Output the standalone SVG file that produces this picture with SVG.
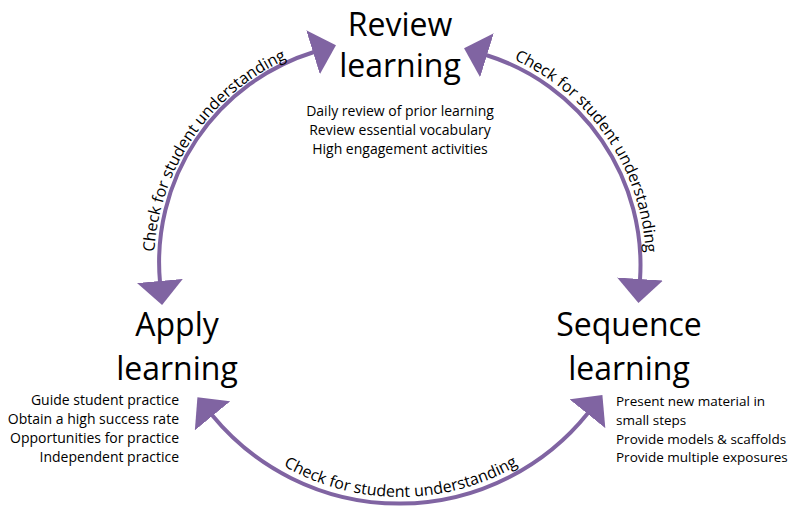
<svg xmlns="http://www.w3.org/2000/svg" width="793" height="506" viewBox="0 0 793 506">
<style>
.title{font-family:"Open Sans","Liberation Sans",sans-serif;font-size:32px;fill:#000;text-anchor:middle}
.sub{font-family:"Open Sans","Liberation Sans",sans-serif;font-size:14px;fill:#000}
.sub2{font-family:"Open Sans","Liberation Sans",sans-serif;font-size:13.5px;fill:#000}
.lbl{font-family:"Open Sans","Liberation Sans",sans-serif;font-size:16px;fill:#000}
.arc{fill:none;stroke:#8064A2;stroke-width:4;marker-start:url(#ah);marker-end:url(#ah)}
</style>
<defs>
<marker id="ah" markerUnits="userSpaceOnUse" markerWidth="24" markerHeight="46" refX="1" refY="23" orient="auto-start-reverse" viewBox="0 0 24 46">
<path d="M0,0 L24,23 L0,46 Z" fill="#8064A2"/>
</marker>
<path id="tpL" d="M154.5,280.4 A226,226 0 0 1 313.2,49.1"/>
<path id="tpR" d="M488,49.5 A226,226 0 0 1 645.5,280.4"/>
<path id="tpB" d="M218.2,410.3 A234,234 0 0 0 582.9,409"/>
</defs>
<rect width="793" height="506" fill="#fff"/>
<g id="connectors">
<path class="arc" d="M160,282 A220,220 0 0 1 314,52"/>
<path class="arc" d="M486,55 A220,220 0 0 1 640,280"/>
<path class="arc" d="M212,415 A242,242 0 0 0 588,413"/>
<text class="lbl" text-anchor="middle"><textPath href="#tpL" startOffset="50%">Check for student understanding</textPath></text>
<text class="lbl" text-anchor="middle"><textPath href="#tpR" startOffset="50%">Check for student understanding</textPath></text>
<text class="lbl" text-anchor="middle"><textPath href="#tpB" startOffset="50%">Check for student understanding</textPath></text>
</g>
<g id="review">
<text class="title" x="400" y="36">Review</text>
<text class="title" x="400" y="77">learning</text>
<text class="sub" text-anchor="middle" x="400" y="116">Daily review of prior learning</text>
<text class="sub" text-anchor="middle" x="400" y="135">Review essential vocabulary</text>
<text class="sub" text-anchor="middle" x="400" y="154">High engagement activities</text>
</g>
<g id="apply">
<text class="title" x="177" y="336">Apply</text>
<text class="title" x="177" y="380">learning</text>
<text class="sub" text-anchor="end" x="179" y="405">Guide student practice</text>
<text class="sub" text-anchor="end" x="179" y="424">Obtain a high success rate</text>
<text class="sub" text-anchor="end" x="179" y="443">Opportunities for practice</text>
<text class="sub" text-anchor="end" x="179" y="462">Independent practice</text>
</g>
<g id="sequence">
<text class="title" x="629" y="336">Sequence</text>
<text class="title" x="629" y="380">learning</text>
<text class="sub2" x="616" y="406">Present new material in</text>
<text class="sub2" x="616" y="425">small steps</text>
<text class="sub2" x="616" y="444">Provide models &amp; scaffolds</text>
<text class="sub2" x="616" y="462">Provide multiple exposures</text>
</g>
</svg>
